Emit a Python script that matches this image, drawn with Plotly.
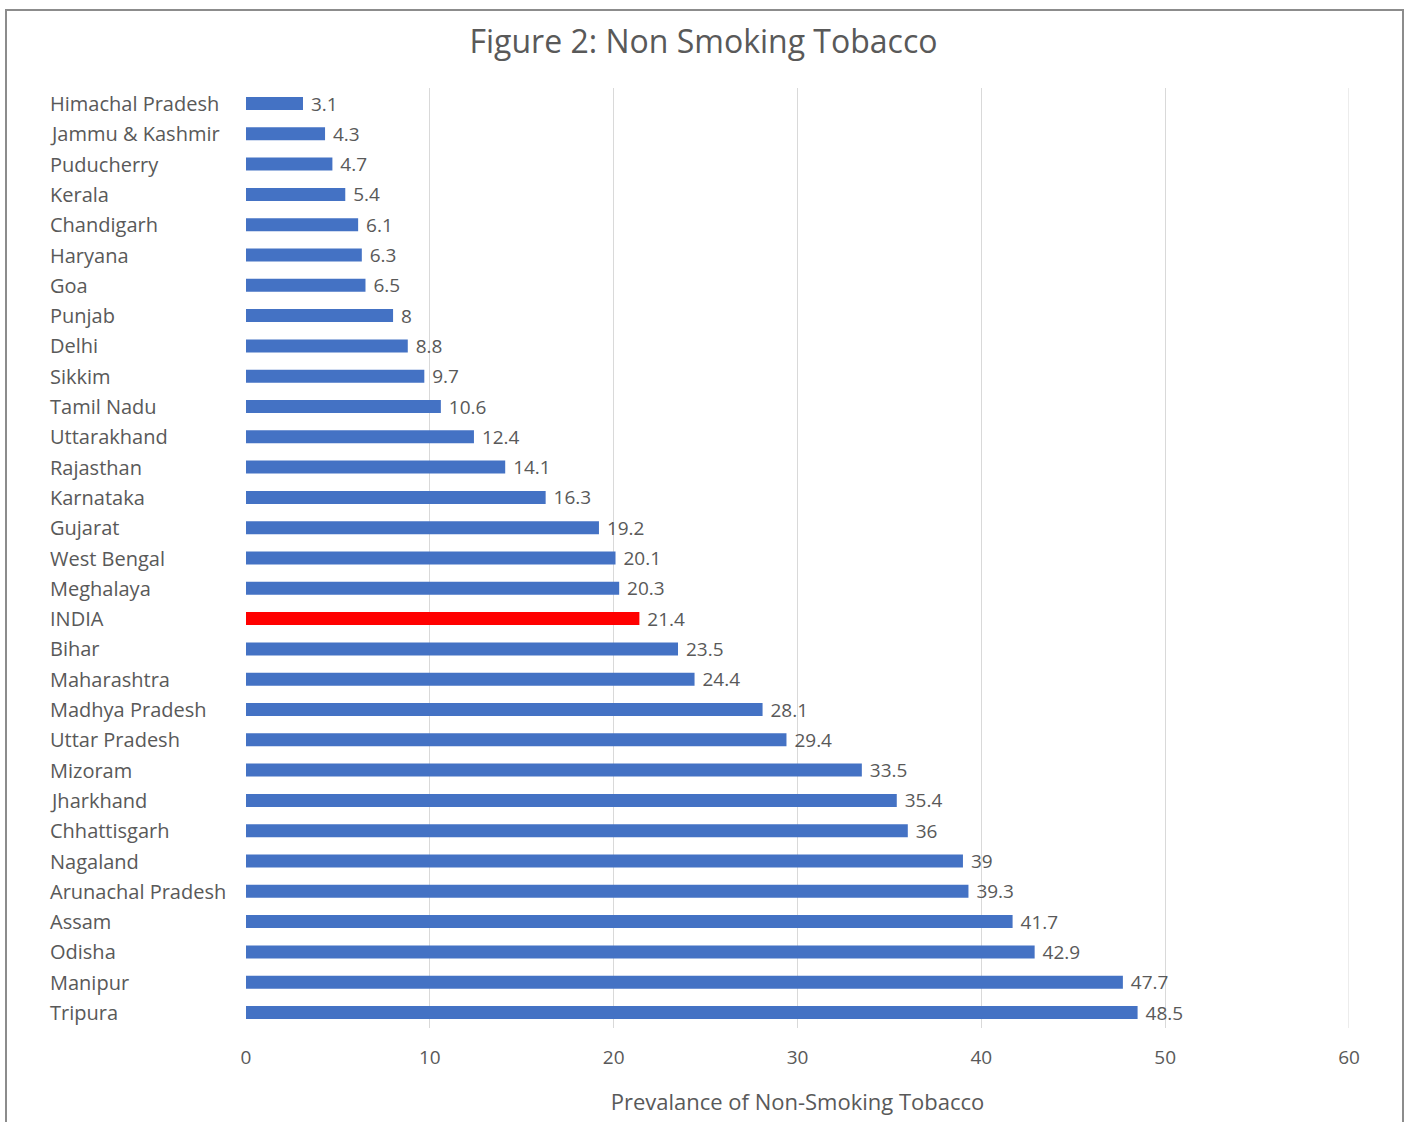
import plotly.graph_objects as go

states = ["Himachal Pradesh", "Jammu & Kashmir", "Puducherry", "Kerala", "Chandigarh",
          "Haryana", "Goa", "Punjab", "Delhi", "Sikkim", "Tamil Nadu", "Uttarakhand",
          "Rajasthan", "Karnataka", "Gujarat", "West Bengal", "Meghalaya", "INDIA",
          "Bihar", "Maharashtra", "Madhya Pradesh", "Uttar Pradesh", "Mizoram",
          "Jharkhand", "Chhattisgarh", "Nagaland", "Arunachal Pradesh", "Assam",
          "Odisha", "Manipur", "Tripura"]
values = [3.1, 4.3, 4.7, 5.4, 6.1, 6.3, 6.5, 8, 8.8, 9.7, 10.6, 12.4, 14.1, 16.3,
          19.2, 20.1, 20.3, 21.4, 23.5, 24.4, 28.1, 29.4, 33.5, 35.4, 36, 39, 39.3,
          41.7, 42.9, 47.7, 48.5]
x_ticks = [0, 10, 20, 30, 40, 50, 60]
title_text = "Figure 2: Non Smoking Tobacco"
x_title = "Prevalance of Non-Smoking Tobacco"

FONT = "Open Sans, Lato, sans-serif"
TXT = "#595959"
colors = ["#ff0000" if s == "INDIA" else "#4472c4" for s in states]

fig = go.Figure(go.Bar(
    x=values, y=states, orientation="h",
    marker=dict(color=colors, line=dict(width=0)),
    text=[f"{v:g}" for v in values], texttemplate=" %{text}",
    textposition="outside", constraintext="none",
    textfont=dict(color=TXT, size=19, family=FONT),
    cliponaxis=False,
))

annotations = [dict(x=-0.1795, y=s, xref="paper", yref="y", text=s, showarrow=False,
                    xanchor="left", yanchor="middle",
                    font=dict(color=TXT, size=20, family=FONT))
               for s in states]

fig.update_layout(
    width=1407, height=1122,
    margin=dict(l=246, r=58, t=88, b=94),
    paper_bgcolor="white", plot_bgcolor="white",
    bargap=0.57,
    showlegend=False,
    title=dict(text=title_text, x=0.5, xref="container", y=1 - 42 / 1122, yref="container",
               xanchor="center", yanchor="middle",
               font=dict(color=TXT, size=32, family=FONT)),
    xaxis=dict(range=[0, 60], tickvals=x_ticks, showgrid=True, gridcolor="#d9d9d9",
               gridwidth=1, zeroline=False, showline=False,
               tickfont=dict(color=TXT, size=19, family=FONT),
               ticks="", ticklen=0, ticklabelstandoff=16,
               title=dict(text=x_title, font=dict(color=TXT, size=22, family=FONT),
                          standoff=25)),
    yaxis=dict(autorange="reversed", showticklabels=False, showgrid=False,
               zeroline=False, showline=False, ticks=""),
    annotations=annotations,
    shapes=[dict(type="rect", xref="paper", yref="paper",
                 x0=(6 - 246) / 1103, x1=(1403 - 246) / 1103,
                 y0=(1028 - 1135) / 940, y1=(1028 - 10) / 940,
                 line=dict(color="#8c8c8c", width=2), layer="below"),
            dict(type="line", xref="x", yref="paper", x0=x_ticks[-1], x1=x_ticks[-1],
                 y0=0, y1=1, line=dict(color="#d9d9d9", width=1), layer="below")],
)

fig.write_html("out.html")
